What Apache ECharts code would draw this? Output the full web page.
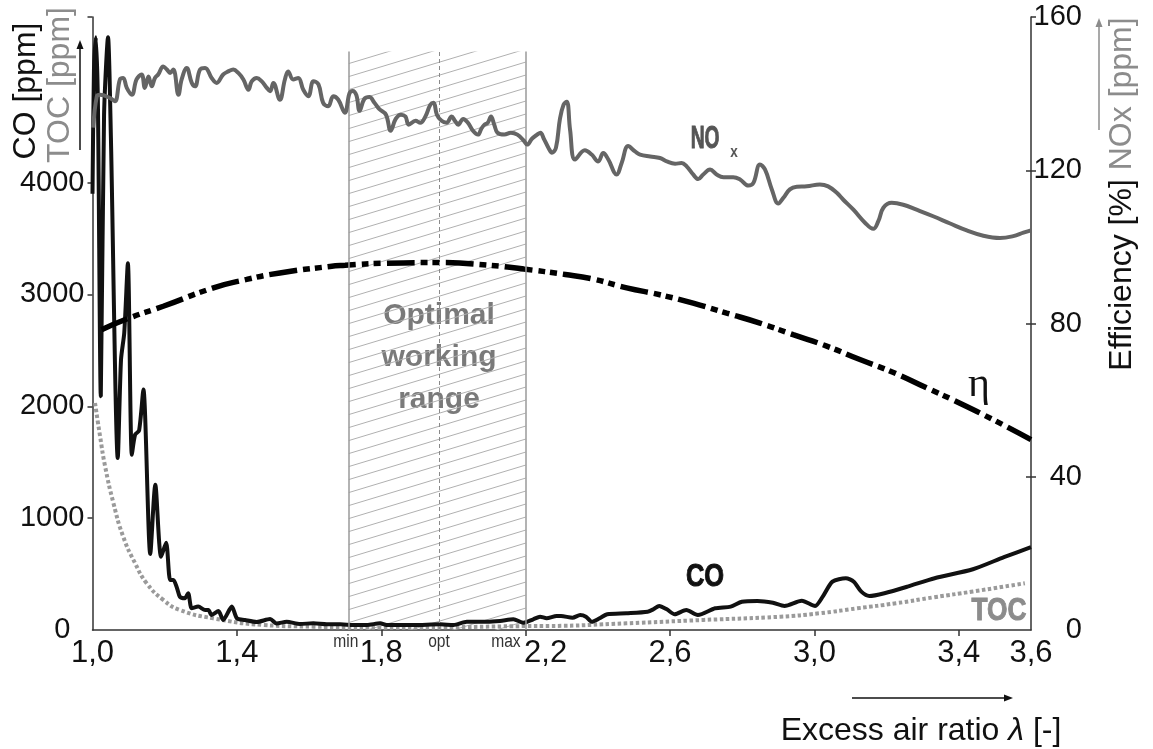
<!DOCTYPE html>
<html><head><meta charset="utf-8">
<script src="https://cdn.jsdelivr.net/npm/echarts@6/dist/echarts.min.js"></script>
<style>html,body{margin:0;padding:0;background:#fff;}#c{width:1153px;height:749px;}</style>
</head><body><div id="c"></div>
<script>
// ---------- data ----------
const xLabelValues = [1.0, 1.4, 1.8, 2.2, 2.6, 3.0, 3.4, 3.6];
const xTickValues = [1.4, 1.8, 2.2, 2.6, 3.0, 3.4];
const leftLabelValues = [0, 1000, 2000, 3000, 4000];
const leftTickValues = [1000, 2000, 3000, 4000, 5480];
const rightLabelValues = [0, 40, 80, 120, 160];
const rightTickValues = [40, 80, 120, 160];
const rightInnerTickValues = [40, 80, 120];

const coLambda = [1.000,1.004,1.0095,1.015,1.023,1.032,1.043,1.051,1.070,1.079,1.088,
1.098,1.109,1.118,1.129,1.141,1.160,1.174,1.190,1.204,1.215,
1.224,1.234,1.242,1.256,1.265,1.275,1.293,1.312,1.321,1.330,
1.349,1.362,1.386,1.400,1.422,1.455,1.492,1.510,1.538,1.575,
1.612,1.649,1.686,1.723,1.760,1.797,1.815,1.889,1.963,2.000,
2.037,2.092,2.129,2.166,2.194,2.221,2.240,2.258,2.286,2.298,
2.330,2.351,2.367,2.383,2.405,2.426,2.479,2.538,2.554,2.570,
2.591,2.613,2.645,2.677,2.725,2.768,2.799,2.842,2.885,2.917,
2.965,3.002,3.023,3.050,3.087,3.109,3.130,3.152,3.194,3.258,
3.333,3.439,3.525,3.600];
const coValues = [3900,5000,5300,4700,2090,4600,5300,4400,1537,2417,2659,
3278,1567,1746,1782,2149,680,1298,654,779,448,
448,376,298,284,329,194,209,179,179,134,
170,90,209,105,90,72,98,58,74,54,
60,51,51,45,45,60,45,45,51,45,
74,74,81,96,65,96,119,105,125,125,
110,134,119,74,105,141,150,164,185,215,
185,141,179,134,194,209,253,260,244,215,
262,215,298,432,463,432,343,304,329,388,
463,543,651,740];

const tocLambda = [1.007,1.021,1.035,1.058,1.085,1.118,1.150,1.196,1.242,1.335,1.473,1.612,1.800,2.000,2.200,2.266,2.479,2.693,2.906,3.013,3.119,3.226,3.332,3.439,3.583];
const tocValues = [2030,1731,1462,1134,835,597,418,269,179,104,45,30,20,25,35,36,60,90,119,149,194,239,293,344,418];

const noxLambda = [1.002,1.012,1.021,1.048,1.062,1.076,1.085,1.095,1.109,1.122,1.136,1.145,1.155,1.164,1.173,1.182,1.196,1.206,1.215,1.224,
1.238,1.247,1.261,1.275,1.284,1.298,1.312,1.330,1.344,1.362,1.376,1.390,1.404,1.418,1.432,1.441,1.455,1.469,1.483,1.492,
1.501,1.519,1.533,1.542,1.556,1.570,1.584,1.598,1.612,1.626,1.639,1.653,1.667,1.681,1.699,1.712,1.721,1.731,1.740,1.753,
1.767,1.781,1.794,1.813,1.826,1.840,1.854,1.867,1.876,1.895,1.908,1.922,1.936,1.945,1.954,1.967,1.981,1.995,2.004,2.013,
2.027,2.040,2.054,2.068,2.077,2.086,2.095,2.104,2.113,2.122,2.141,2.159,2.177,2.195,2.204,2.218,2.232,2.241,2.250,2.264,
2.273,2.284,2.295,2.305,2.314,2.323,2.337,2.364,2.383,2.401,2.415,2.429,2.452,2.466,2.484,2.503,2.517,2.545,2.572,2.591,
2.614,2.632,2.646,2.664,2.678,2.692,2.711,2.729,2.748,2.775,2.794,2.817,2.831,2.849,2.863,2.882,2.900,2.914,2.932,2.951,
2.979,3.015,3.038,3.062,3.080,3.108,3.140,3.163,3.177,3.191,3.214,3.246,3.283,3.329,3.376,3.422,3.468,3.514,3.551,3.579,3.600];
const noxValues = [131.1,139.3,139.7,138.9,138.0,143.7,144.1,141.5,139.7,143.7,145.0,141.5,144.5,141.9,144.1,145.0,147.1,146.3,145.4,146.3,
139.7,143.7,146.7,142.8,141.9,146.3,146.7,144.1,142.8,145.0,145.8,146.3,145.4,143.7,141.0,143.2,144.1,143.2,141.5,140.6,
142.8,138.4,143.7,145.8,143.7,144.1,141.0,139.3,143.2,142.4,137.6,136.7,139.3,138.4,135.0,140.1,140.7,139.6,135.5,138.6,
139.1,137.6,136.0,134.5,130.3,133.4,134.5,134.0,131.9,132.9,132.4,134.0,137.1,137.6,134.5,132.9,132.4,134.0,132.9,131.9,
133.4,132.4,130.3,129.3,130.8,131.9,132.4,134.0,131.9,129.8,129.3,129.8,129.3,127.7,126.7,128.3,129.3,129.8,128.3,125.7,
124.6,125.9,133.4,137.1,137.9,130.6,122.8,125.2,124.1,122.3,124.5,122.8,118.9,121.9,126.3,124.9,124.1,123.6,123.2,122.3,
121.7,121.9,121.0,118.9,117.7,118.9,120.2,118.9,118.2,118.2,117.6,116.0,116.7,121.5,120.2,115.0,111.3,112.8,115.0,115.7,
115.8,116.3,115.8,114.1,112.3,109.7,106.3,104.7,106.7,110.2,111.5,111.0,109.7,108.0,106.1,104.3,102.9,102.3,102.8,103.7,104.3];

const etaLambda = [1.025,1.104,1.196,1.335,1.427,1.519,1.658,1.700,1.800,1.958,2.100,2.195,2.310,2.387,2.480,2.572,2.664,2.757,2.849,2.941,3.034,3.126,3.219,3.311,3.403,3.495,3.600];
const etaValues = [78.4,81.5,84.5,89.3,91.5,93.2,94.9,95.2,95.7,95.9,95.2,94.2,92.8,91.6,89.3,87.5,85.3,82.7,80.1,77.1,74.1,70.6,67.2,63.2,59.2,54.9,49.7];

// optimal working range (lambda) and its top (right-axis units)
const rangeNames = ['min', 'opt', 'max'];
const rangeLambda = [1.71, 1.96, 2.2];
const rangeTop = 151;

// ---------- helpers ----------
const SANS = "'Liberation Sans',Arial,sans-serif";
const pair = (xs, ys) => xs.map((x, i) => [x, ys[i]]);
const fmtX = v => v.toFixed(1).replace('.', ',');

function makeHatch() {
  const W = 43, H = 13;
  const c = document.createElement('canvas');
  c.width = W; c.height = H;
  const g = c.getContext('2d');
  g.strokeStyle = '#b0b0b0';
  g.lineWidth = 1;
  for (let k = -1; k <= 1; k++) {
    g.beginPath();
    g.moveTo(-W, 2 * H + k * H);
    g.lineTo(2 * W, -H + k * H);
    g.stroke();
  }
  return c;
}

const chart = echarts.init(document.getElementById('c'), null, {renderer: 'canvas'});
const axisColor = '#333';
const option = {
  animation: false,
  backgroundColor: '#fff',
  grid: {left: 92.5, right: 122, top: 17, bottom: 119},
  xAxis: {
    type: 'value', min: 1.0, max: 3.6,
    axisLine: {lineStyle: {color: axisColor, width: 1.5}},
    axisTick: {show: true, length: 6, customValues: xTickValues, lineStyle: {color: axisColor, width: 1.5}},
    axisLabel: {
      customValues: xLabelValues, margin: 8, color: '#111', fontFamily: SANS, fontSize: 31,
      formatter: v => Math.abs(v - 2.2) < 1e-6 ? '{s|' + fmtX(v) + '}' : fmtX(v),
      rich: {s: {color: '#111', fontFamily: SANS, fontSize: 31, padding: [0, 0, 0, 40]}}
    },
    splitLine: {show: false}
  },
  yAxis: [
    {
      type: 'value', min: 0, max: 5480, position: 'left',
      axisLine: {show: true, lineStyle: {color: axisColor, width: 1.5}},
      axisTick: {show: true, length: 5, customValues: leftTickValues, lineStyle: {color: axisColor, width: 1.5}},
      axisLabel: {
        customValues: leftLabelValues, margin: 8, color: '#111', fontFamily: SANS, fontSize: 29,
        formatter: v => v === 0 ? '{z|0}' : String(v),
        rich: {z: {color: '#111', fontFamily: SANS, fontSize: 29, padding: [0, 14, 0, 0]}}
      },
      splitLine: {show: false}
    },
    {
      type: 'value', min: 0, max: 160, position: 'right',
      axisLine: {show: true, lineStyle: {color: axisColor, width: 1.5}},
      axisTick: {show: true, length: 5, customValues: rightTickValues, lineStyle: {color: axisColor, width: 1.5}},
      axisLabel: {customValues: rightLabelValues, margin: 51, align: 'right', color: '#111', fontFamily: SANS, fontSize: 29},
      splitLine: {show: false}
    },
    {
      type: 'value', min: 0, max: 160, position: 'right',
      axisLine: {show: false},
      axisTick: {show: true, inside: true, length: 5, customValues: rightInnerTickValues, lineStyle: {color: axisColor, width: 1.5}},
      axisLabel: {show: false},
      splitLine: {show: false}
    }
  ],
  series: [
    {
      name: 'range', type: 'line', yAxisIndex: 1, data: [], z: 1, silent: true,
      markArea: {
        silent: true,
        itemStyle: {color: {image: makeHatch(), repeat: 'repeat'}},
        data: [[{xAxis: rangeLambda[0], yAxis: 0}, {xAxis: rangeLambda[2], yAxis: rangeTop}]]
      },
      markLine: {
        silent: true, symbol: 'none', label: {show: false},
        data: rangeLambda.map((l, i) => [
          {coord: [l, 0], lineStyle: {color: i === 1 ? '#8a8a8a' : '#9a9a9a', width: i === 1 ? 1 : 1.5, type: i === 1 ? [4, 3] : 'solid'}},
          {coord: [l, rangeTop]}
        ])
      }
    },
    {
      name: 'TOC', type: 'line', yAxisIndex: 0, data: pair(tocLambda, tocValues), z: 2,
      showSymbol: false, smooth: 0.5,
      lineStyle: {color: '#9a9a9a', width: 4, type: [3.5, 2.5], cap: 'butt'}
    },
    {
      name: 'CO', type: 'line', yAxisIndex: 0, data: pair(coLambda, coValues), z: 3,
      showSymbol: false, smooth: 0.25,
      lineStyle: {color: '#111', width: 4}
    },
    {
      name: 'eta', type: 'line', yAxisIndex: 1, data: pair(etaLambda, etaValues), z: 4,
      showSymbol: false, smooth: 0.5,
      lineStyle: {color: '#000', width: 5.5, type: [28, 6, 7, 5, 7, 6], cap: 'butt'}
    },
    {
      name: 'NOx', type: 'line', yAxisIndex: 1, data: pair(noxLambda, noxValues), z: 5,
      showSymbol: false, smooth: 0.4,
      lineStyle: {color: '#656565', width: 4}
    }
  ]
};
chart.setOption(option);

// ---------- annotations anchored to data coordinates ----------
const toPx = (l, v, yi) => chart.convertToPixel({xAxisIndex: 0, yAxisIndex: yi}, [l, v]);
const g = [];
const axisBottom = toPx(1.0, 0, 1)[1];

// min / opt / max labels
rangeLambda.forEach((l, i) => {
  const p = toPx(l, 0, 1);
  const align = i === 2 ? 'right' : 'center';
  const dx = i === 0 ? -3 : (i === 2 ? -5 : 0);
  g.push({type: 'text', x: p[0] + dx, y: axisBottom + 2, scaleX: 0.82, silent: true,
    style: {text: rangeNames[i], align: align, verticalAlign: 'top', fill: '#333', font: '19px ' + SANS}});
});

// Optimal working range
const pOpt = toPx(rangeLambda[1], 71, 1);
g.push({type: 'text', x: pOpt[0], y: pOpt[1], silent: true,
  style: {text: 'Optimal\nworking\nrange', align: 'center', verticalAlign: 'middle', lineHeight: 42,
    fill: '#7a7a7a', font: 'bold 30px ' + SANS}});

// NOx label
const pNox = toPx(2.697, 128, 1);
g.push({type: 'text', x: pNox[0], y: pNox[1], scaleX: 0.62, silent: true,
  style: {text: 'NO', align: 'center', verticalAlign: 'middle', fill: '#555', font: 'bold 31px ' + SANS,
    stroke: '#555', lineWidth: 1}});
g.push({type: 'text', x: pNox[0] + 29, y: pNox[1] + 13, scaleX: 0.8, silent: true,
  style: {text: 'x', align: 'center', verticalAlign: 'middle', fill: '#555', font: 'bold 17px ' + SANS}});

// eta label
const pEta = toPx(3.456, 64, 1);
g.push({type: 'text', x: pEta[0], y: pEta[1], silent: true,
  style: {text: 'η', align: 'center', verticalAlign: 'middle', fill: '#111', font: '42px "Liberation Serif", serif'}});

// CO label
const pCo = toPx(2.697, 466, 0);
g.push({type: 'text', x: pCo[0], y: pCo[1], scaleX: 0.82, silent: true,
  style: {text: 'CO', align: 'center', verticalAlign: 'middle', fill: '#111', font: 'bold 31px ' + SANS,
    stroke: '#111', lineWidth: 1}});

// TOC label
const pToc = toPx(3.511, 166, 0);
g.push({type: 'text', x: pToc[0], y: pToc[1], scaleX: 0.82, silent: true,
  style: {text: 'TOC', align: 'center', verticalAlign: 'middle', fill: '#8c8c8c', font: 'bold 32px ' + SANS,
    stroke: '#8c8c8c', lineWidth: 1}});

// axis titles
g.push({type: 'text', x: 26, y: 91, rotation: Math.PI / 2, silent: true,
  style: {text: 'CO [ppm]', align: 'center', verticalAlign: 'middle', fill: '#111', font: '32px ' + SANS}});
g.push({type: 'text', x: 60, y: 85, rotation: Math.PI / 2, silent: true,
  style: {text: 'TOC [ppm]', align: 'center', verticalAlign: 'middle', fill: '#8c8c8c', font: '32px ' + SANS}});
g.push({type: 'text', x: 1122, y: 194, rotation: Math.PI / 2, silent: true,
  style: {text: '{k|Efficiency [%] }{n|NOx [ppm]}', align: 'center', verticalAlign: 'middle',
    rich: {k: {fill: '#111', font: '32px ' + SANS}, n: {fill: '#8c8c8c', font: '32px ' + SANS}}}});
g.push({type: 'text', x: 921, y: 731, silent: true,
  style: {text: '{a|Excess air ratio }{i|λ}{a| [-]}', align: 'center', verticalAlign: 'middle',
    rich: {a: {fill: '#111', font: '32px ' + SANS}, i: {fill: '#111', font: 'italic 32px ' + SANS}}}});

// arrows
function arrow(x1, y1, x2, y2, color) {
  const a = Math.atan2(y2 - y1, x2 - x1), L = 9, Wd = 3.5;
  const bx = x2 - L * Math.cos(a), by = y2 - L * Math.sin(a);
  g.push({type: 'line', silent: true, shape: {x1: x1, y1: y1, x2: bx, y2: by}, style: {stroke: color, lineWidth: 1.5}});
  g.push({type: 'polygon', silent: true, shape: {points: [[x2, y2],
    [bx + Wd * Math.sin(a), by - Wd * Math.cos(a)], [bx - Wd * Math.sin(a), by + Wd * Math.cos(a)]]},
    style: {fill: color}});
}
arrow(80, 150, 80, 40, '#111');
arrow(1099, 130, 1099, 18, '#8c8c8c');
arrow(852, 698, 1013, 698, '#111');

chart.setOption({graphic: g});
</script>
</body></html>
